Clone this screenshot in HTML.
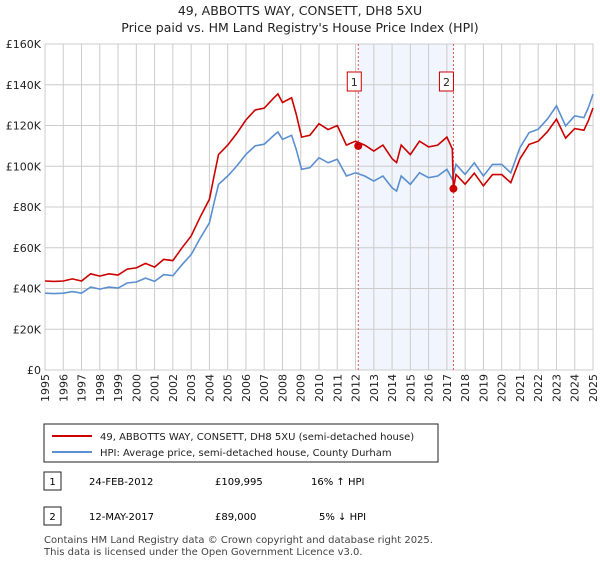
<!DOCTYPE html>
<html><head><meta charset="utf-8"><style>
body{margin:0;background:#fff;font-family:"Liberation Sans","DejaVu Sans",sans-serif;}
svg text{font-family:"DejaVu Sans","Liberation Sans",sans-serif;}
</style></head><body>
<svg id="c" width="600" height="560" xmlns="http://www.w3.org/2000/svg">
<text x="300" y="15" text-anchor="middle" font-size="12.5" fill="#222">49, ABBOTTS WAY, CONSETT, DH8 5XU</text>
<text x="300" y="32" text-anchor="middle" font-size="12.5" fill="#222">Price paid vs. HM Land Registry's House Price Index (HPI)</text>
<g id="plot"></g>
<rect x="44" y="424" width="394" height="38" fill="#fff" stroke="#222"/>
<line x1="52" y1="436" x2="92" y2="436" stroke="#cc0000" stroke-width="2"/>
<text x="100" y="440" font-size="10" fill="#222">49, ABBOTTS WAY, CONSETT, DH8 5XU (semi-detached house)</text>
<line x1="52" y1="452" x2="92" y2="452" stroke="#5b8fd0" stroke-width="2"/>
<text x="100" y="456" font-size="10" fill="#222">HPI: Average price, semi-detached house, County Durham</text>
<g>
<rect x="44" y="472" width="17" height="18" fill="#fff" stroke="#222"/>
<text x="52.5" y="485" text-anchor="middle" font-size="10">1</text>
<text x="89" y="485" font-size="10">24-FEB-2012</text>
<text x="215" y="485" font-size="10">£109,995</text>
<text x="311" y="485" font-size="10">16% ↑ HPI</text></g>
<g>
<rect x="44" y="507" width="17" height="18" fill="#fff" stroke="#222"/>
<text x="52.5" y="520" text-anchor="middle" font-size="10">2</text>
<text x="89" y="520" font-size="10">12-MAY-2017</text>
<text x="215" y="520" font-size="10">£89,000</text>
<text x="319" y="520" font-size="10">5% ↓ HPI</text></g>
<text x="44" y="543" font-size="10" fill="#444">Contains HM Land Registry data © Crown copyright and database right 2025.</text>
<text x="44" y="555" font-size="10" fill="#444">This data is licensed under the Open Government Licence v3.0.</text>
</svg>
<script>
const hpiYears=[1995,1995.5,1996,1996.5,1997,1997.5,1998,1998.5,1999,1999.5,2000,2000.5,2001,2001.5,2002,2002.5,2003,2003.5,2004,2004.25,2004.5,2005,2005.5,2006,2006.5,2007,2007.5,2007.75,2008,2008.5,2008.75,2009.05,2009.5,2010,2010.5,2011,2011.5,2012,2012.5,2013,2013.5,2014,2014.25,2014.5,2015,2015.5,2016,2016.5,2017,2017.3,2017.5,2018,2018.5,2019,2019.5,2020,2020.5,2021,2021.5,2022,2022.5,2023,2023.5,2024,2024.5,2024.75,2025];
const hpiValues=[37.7,37.5,37.7,38.5,37.7,40.7,39.7,40.7,40.2,42.7,43.2,45.1,43.5,46.8,46.3,51.7,56.6,64.8,72.2,82,91.1,95.2,100.1,105.8,110,110.8,114.9,116.8,113.2,115.2,108.3,98.5,99.3,104.2,101.7,103.4,95.2,96.8,95.2,92.7,95.2,89.4,87.8,95.2,91.1,96.8,94.4,95.2,98.5,93.6,100.9,96,101.7,95.2,100.9,100.9,96.8,109.1,116.5,118.2,123.1,129.6,119.8,124.7,123.9,128.8,135.4];
const priceYears=[1995,1995.5,1996,1996.5,1997,1997.5,1998,1998.5,1999,1999.5,2000,2000.5,2001,2001.5,2002,2002.5,2003,2003.5,2004,2004.25,2004.5,2005,2005.5,2006,2006.5,2007,2007.5,2007.75,2008,2008.5,2008.75,2009.05,2009.5,2010,2010.5,2011,2011.5,2012,2012.5,2013,2013.5,2014,2014.25,2014.5,2015,2015.5,2016,2016.5,2017,2017.3,2017.36,2017.5,2018,2018.5,2019,2019.5,2020,2020.5,2021,2021.5,2022,2022.5,2023,2023.5,2024,2024.5,2024.75,2025];
const priceValues=[43.7,43.5,43.7,44.7,43.7,47.2,46.1,47.2,46.6,49.5,50.1,52.3,50.5,54.3,53.7,60,65.7,75.2,83.8,95,105.7,110.4,116.1,122.7,127.6,128.5,133.3,135.5,131.3,133.6,125.6,114.3,115.2,120.9,118,120,110.4,112.3,110.4,107.5,110.4,103.7,101.8,110.4,105.7,112.3,109.5,110.4,114.3,108.5,89,95.9,91.2,96.6,90.4,95.9,95.9,92,103.6,110.7,112.3,116.9,123.1,113.8,118.5,117.7,122.4,128.6];
const saleYears=[2012.15,2017.36];
const saleValues=[109.995,89];
const saleLabels=["1","2"];
const yTicks=[0,20,40,60,80,100,120,140,160];
const xTicks=[1995,1996,1997,1998,1999,2000,2001,2002,2003,2004,2005,2006,2007,2008,2009,2010,2011,2012,2013,2014,2015,2016,2017,2018,2019,2020,2021,2022,2023,2024,2025];
const L=45,R=593,T=44,B=370;
const xs=y=>L+(y-1995)/30*(R-L);
const ys=v=>B-v/160*(B-T);
const NS="http://www.w3.org/2000/svg";
const g=document.getElementById('plot');
function mk(t,a){const e=document.createElementNS(NS,t);for(const k in a)e.setAttribute(k,a[k]);g.appendChild(e);return e;}
let e=mk('rect',{x:xs(saleYears[0]),y:T,width:xs(saleYears[1])-xs(saleYears[0]),height:B-T,fill:'#eef3fc',opacity:0.8});


yTicks.forEach(v=>{
 let l=mk('line',{x1:L,x2:R,y1:ys(v),y2:ys(v),stroke:'#ccc'});
 
 
 let t=mk('text',{x:L-4,y:ys(v)+4,'text-anchor':'end','font-size':11,fill:'#222'});t.textContent='£'+(v?v+'K':'0');
 
 
});
xTicks.forEach(yr=>{
 let l=mk('line',{x1:xs(yr),x2:xs(yr),y1:T,y2:B,stroke:'#ccc'});
 
 
 let t=mk('text',{x:0,y:0,'text-anchor':'end','font-size':11,fill:'#222',transform:`translate(${xs(yr)+4},${B+4}) rotate(-90)`});t.textContent=yr;
 
 
});
e=mk('rect',{x:L,y:T,width:R-L,height:B-T,fill:'none',stroke:'#ccc'});


saleYears.forEach((yr,i)=>{
 let l=mk('line',{x1:xs(yr),x2:xs(yr),y1:T,y2:B,stroke:'#e05555','stroke-dasharray':'2,2'});
 
 
 let bx=mk('rect',{x:xs(yr)-11+(i?-3:0),y:72,width:14,height:19,fill:'#fff',stroke:'#cc0000'});
 
 
 let t=mk('text',{x:xs(yr)-4+(i?-3:0),y:86,'text-anchor':'middle','font-size':11,fill:'#222'});t.textContent=saleLabels[i];
 
 
});
const pts=(xa,va)=>xa.map((x,i)=>xs(x).toFixed(1)+','+ys(va[i]).toFixed(1)).join(' ');
e=mk('polyline',{points:pts(hpiYears,hpiValues),fill:'none',stroke:'#5b8fd0','stroke-width':1.6});


e=mk('polyline',{points:pts(priceYears,priceValues),fill:'none',stroke:'#cc0000','stroke-width':1.6});


saleYears.forEach((yr,i)=>{
 let c=mk('circle',{cx:xs(yr),cy:ys(saleValues[i]),r:4,fill:'#cc0000'});
 
 
});
</script>
</body></html>
